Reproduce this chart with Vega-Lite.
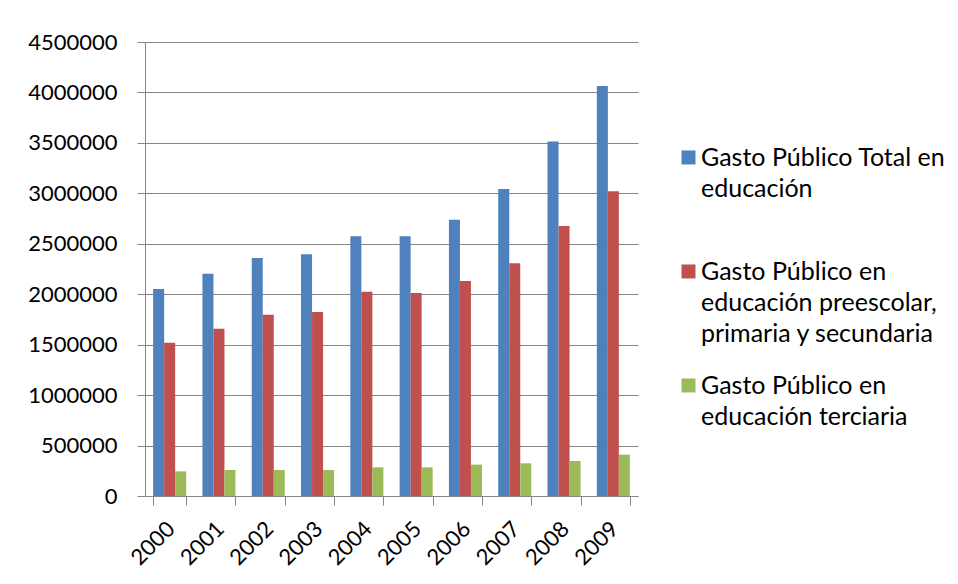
{
  "$schema": "https://vega.github.io/schema/vega-lite/v6.json",
  "width": 493,
  "height": 454,
  "autosize": {"type": "none"},
  "padding": {"left": 145, "top": 42, "right": 320, "bottom": 88},
  "background": "white",
  "data": {
    "values": [
      {"anio": "2000", "serie": "Gasto Público Total en educación", "valor": 2052000},
      {"anio": "2001", "serie": "Gasto Público Total en educación", "valor": 2204000},
      {"anio": "2002", "serie": "Gasto Público Total en educación", "valor": 2359000},
      {"anio": "2003", "serie": "Gasto Público Total en educación", "valor": 2395000},
      {"anio": "2004", "serie": "Gasto Público Total en educación", "valor": 2574000},
      {"anio": "2005", "serie": "Gasto Público Total en educación", "valor": 2574000},
      {"anio": "2006", "serie": "Gasto Público Total en educación", "valor": 2739000},
      {"anio": "2007", "serie": "Gasto Público Total en educación", "valor": 3043000},
      {"anio": "2008", "serie": "Gasto Público Total en educación", "valor": 3515000},
      {"anio": "2009", "serie": "Gasto Público Total en educación", "valor": 4064000},
      {"anio": "2000", "serie": "Gasto Público en educación preescolar, primaria y secundaria", "valor": 1520000},
      {"anio": "2001", "serie": "Gasto Público en educación preescolar, primaria y secundaria", "valor": 1659000},
      {"anio": "2002", "serie": "Gasto Público en educación preescolar, primaria y secundaria", "valor": 1797000},
      {"anio": "2003", "serie": "Gasto Público en educación preescolar, primaria y secundaria", "valor": 1824000},
      {"anio": "2004", "serie": "Gasto Público en educación preescolar, primaria y secundaria", "valor": 2025000},
      {"anio": "2005", "serie": "Gasto Público en educación preescolar, primaria y secundaria", "valor": 2012000},
      {"anio": "2006", "serie": "Gasto Público en educación preescolar, primaria y secundaria", "valor": 2131000},
      {"anio": "2007", "serie": "Gasto Público en educación preescolar, primaria y secundaria", "valor": 2306000},
      {"anio": "2008", "serie": "Gasto Público en educación preescolar, primaria y secundaria", "valor": 2676000},
      {"anio": "2009", "serie": "Gasto Público en educación preescolar, primaria y secundaria", "valor": 3020000},
      {"anio": "2000", "serie": "Gasto Público en educación terciaria", "valor": 244000},
      {"anio": "2001", "serie": "Gasto Público en educación terciaria", "valor": 258000},
      {"anio": "2002", "serie": "Gasto Público en educación terciaria", "valor": 258000},
      {"anio": "2003", "serie": "Gasto Público en educación terciaria", "valor": 258000},
      {"anio": "2004", "serie": "Gasto Público en educación terciaria", "valor": 284000},
      {"anio": "2005", "serie": "Gasto Público en educación terciaria", "valor": 284000},
      {"anio": "2006", "serie": "Gasto Público en educación terciaria", "valor": 311000},
      {"anio": "2007", "serie": "Gasto Público en educación terciaria", "valor": 324000},
      {"anio": "2008", "serie": "Gasto Público en educación terciaria", "valor": 347000},
      {"anio": "2009", "serie": "Gasto Público en educación terciaria", "valor": 410000}
    ]
  },
  "mark": {"type": "bar"},
  "encoding": {
    "x": {
      "field": "anio",
      "type": "nominal",
      "title": null,
      "scale": {"paddingInner": 0.33, "paddingOuter": 0.165},
      "axis": {
        "labelAngle": -45,
        "labelFontSize": 22,
        "labelPadding": 13,
        "labelOffset": -6,
        "tickBand": "extent",
        "tickSize": 9,
        "tickColor": "#868686",
        "domainColor": "#868686"
      }
    },
    "xOffset": {
      "field": "serie",
      "sort": [
        "Gasto Público Total en educación",
        "Gasto Público en educación preescolar, primaria y secundaria",
        "Gasto Público en educación terciaria"
      ]
    },
    "y": {
      "field": "valor",
      "type": "quantitative",
      "title": null,
      "scale": {"domain": [0, 4500000], "nice": false},
      "axis": {
        "values": [0, 500000, 1000000, 1500000, 2000000, 2500000, 3000000, 3500000, 4000000, 4500000],
        "format": "d",
        "labelFontSize": 22,
        "labelPadding": 20,
        "tickSize": 8,
        "tickColor": "#868686",
        "domainColor": "#868686",
        "gridColor": "#868686"
      }
    },
    "color": {
      "field": "serie",
      "type": "nominal",
      "title": null,
      "sort": [
        "Gasto Público Total en educación",
        "Gasto Público en educación preescolar, primaria y secundaria",
        "Gasto Público en educación terciaria"
      ],
      "scale": {"range": ["#4F81BD", "#C0504D", "#9BBB59"]},
      "legend": {
        "orient": "none",
        "legendX": 531,
        "legendY": 91,
        "symbolType": "M-1,0.71H1V2.71H-1Z",
        "symbolSize": 196,
        "symbolStrokeWidth": 0,
        "labelFontSize": 25,
        "labelLimit": 0,
        "labelOffset": 0,
        "labelBaseline": "top",
        "gridAlign": "all",
        "rowPadding": 14,
        "labelExpr": "datum.label == 'Gasto Público Total en educación' ? ['Gasto Público Total en', 'educación'] : datum.label == 'Gasto Público en educación terciaria' ? ['Gasto Público en', 'educación terciaria'] : ['Gasto Público en', 'educación preescolar,', 'primaria y secundaria']"
      }
    }
  },
  "config": {
    "font": "Lato",
    "view": {"stroke": null},
    "axis": {"labelColor": "#000000", "gridOpacity": 1, "domainOpacity": 1},
    "legend": {"labelColor": "#000000"},
    "style": {"guide-label": {"lineHeight": 31}}
  }
}
